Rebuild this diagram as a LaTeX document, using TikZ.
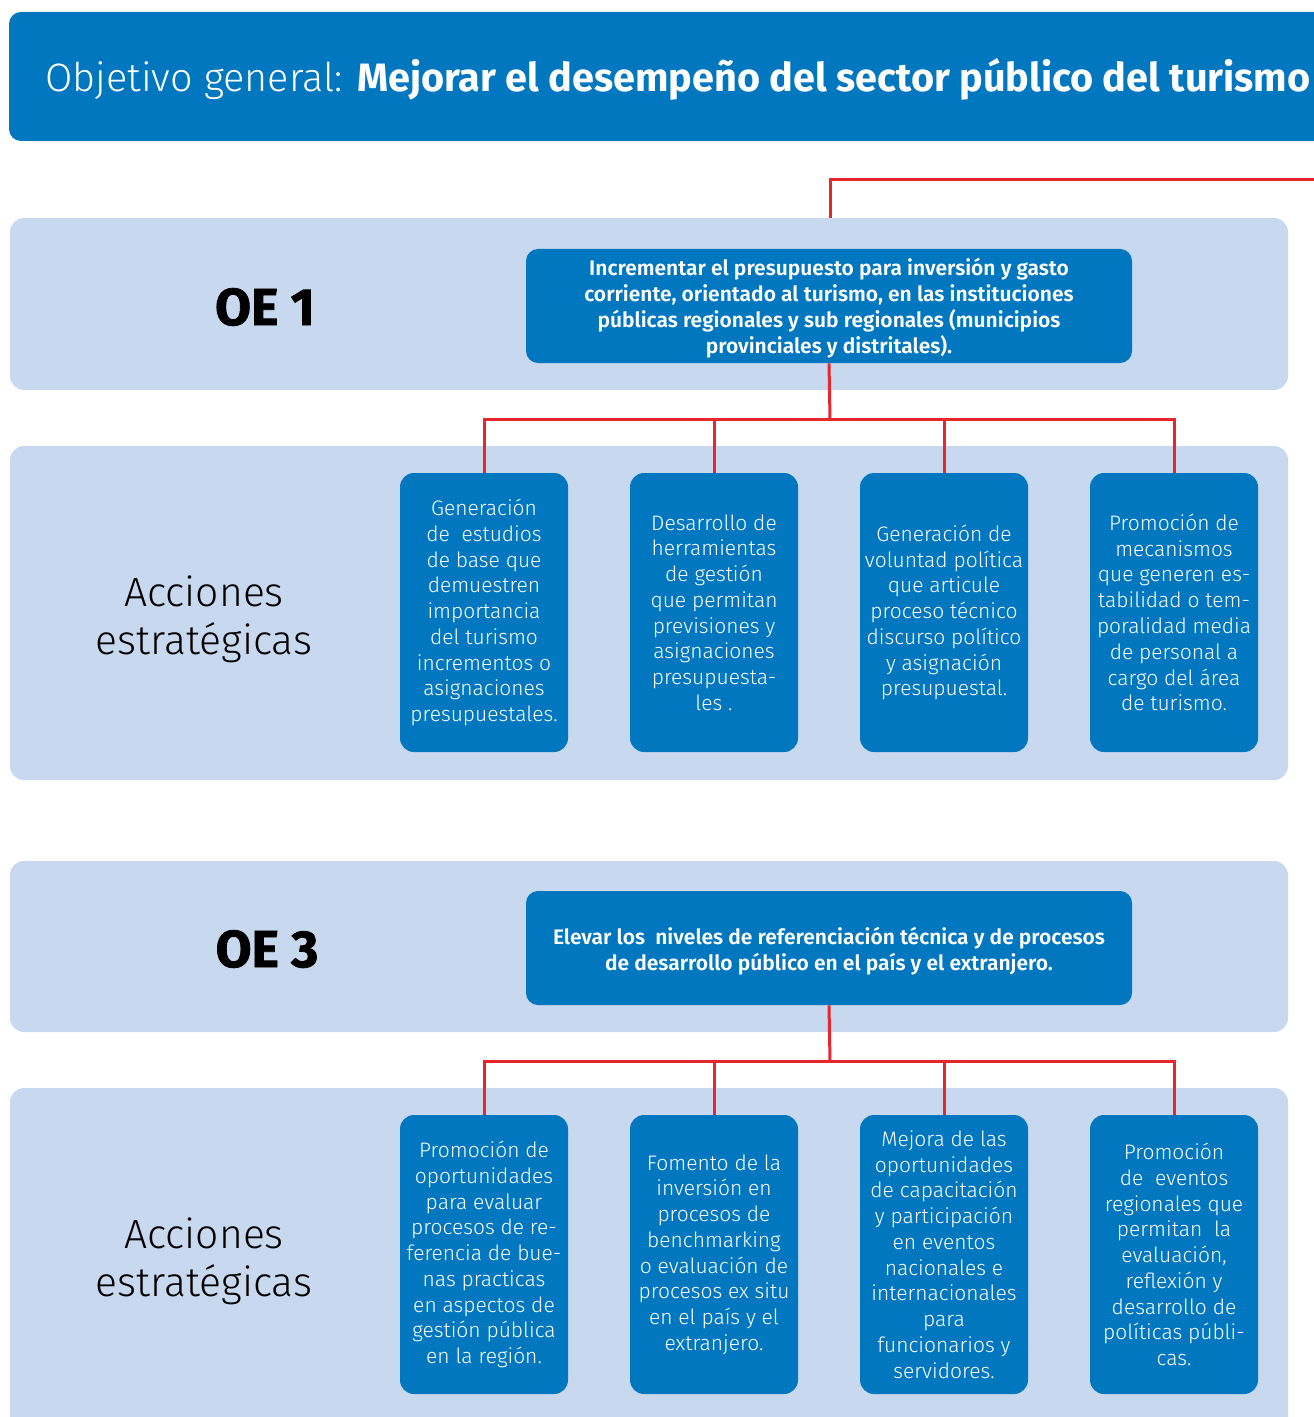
\documentclass[tikz,border=0pt]{standalone}
\usepackage{fontspec}
\setmainfont{Fira Sans}
\newfontfamily\lightf{Fira Sans Light}
\newfontfamily\semif{Fira Sans SemiBold}
\newfontfamily\heavyf[FakeBold=1.5]{Fira Sans Bold}
\definecolor{bannerblue}{HTML}{0077BF}
\definecolor{bandblue}{HTML}{C8D8EE}
\definecolor{linered}{HTML}{E8262E}
\tikzset{
  band/.style={fill=bandblue, rounded corners=7pt},
  oebox/.style={fill=bannerblue, rounded corners=6pt,
    minimum width=303pt, minimum height=57pt, inner sep=0pt},
  oetext/.style={font=\semif\fontsize{10.5}{13}\selectfont, text=white, align=center, inner sep=0pt},
  actbox/.style={fill=bannerblue, rounded corners=7pt, text=white, align=center,
    minimum width=84pt, minimum height=139.5pt, inner sep=0pt,
    font=\lightf\fontsize{10.5}{12.88}\selectfont},
  oelabel/.style={font=\heavyf\fontsize{26}{30}\selectfont, text=black},
  acclabel/.style={font=\lightf\fontsize{20.4}{24}\selectfont, text=black, align=center},
  redline/.style={draw=linered, line width=1.5pt},
}
\begin{document}
\begin{tikzpicture}[x=0.5pt,y=-0.5pt]
\useasboundingbox (0,0) rectangle (1313,1417);
% banner
\fill[bannerblue, rounded corners=6pt] (9,12) rectangle (1340,141);
\node[anchor=base west, text=white, inner sep=0pt, font=\fontsize{19.8}{22}\selectfont] (title) at (45,92)
  {{\lightf Objetivo general:} \bfseries Mejorar el desempeño del sector público del turismo};
% bands
\fill[band] (10,218) rectangle (1288,390);
\fill[band] (10,446) rectangle (1288,780);
\fill[band] (10,861) rectangle (1288,1032);
\fill[band] (10,1088) rectangle (1288,1440);
% labels
\node[oelabel] (l1) at (265,307) {OE 1};
\node[acclabel] (l2) at (204,619) {Acciones\\estratégicas};
\node[oelabel] (l3) at (267,949) {OE 3};
\node[acclabel] (l4) at (204,1261) {Acciones\\estratégicas};
% OE boxes
\node[oebox] (oe1) at (829,306) {};
\node[oetext] (oe1t) at (829,308.5) {Incrementar el presupuesto para inversión y gasto\\corriente, orientado al turismo, en las instituciones\\públicas regionales y sub regionales (municipios\\provinciales y distritales).};
\node[oebox] (oe3) at (829,948) {};
\node[oetext] (oe3t) at (829,951) {Elevar los\ \ niveles de referenciación técnica y de procesos\\de desarrollo público en el país y el extranjero.};
% action boxes OE1
\node[actbox] (a1) at (484,612.5) {Generación\\de\ \ estudios\\de base que\\demuestren\\importancia\\del turismo\\incrementos o\\asignaciones\\presupuestales.};
\node[actbox] (a2) at (714,612.5) {Desarrollo de\\herramientas\\de gestión\\que permitan\\previsiones y\\asignaciones\\presupuesta-\\les .};
\node[actbox] (a3) at (944,612.5) {Generación de\\voluntad política\\que articule\\proceso técnico\\discurso político\\y asignación\\presupuestal.};
\node[actbox] (a4) at (1174,612.5) {Promoción de\\mecanismos\\que generen es-\\tabilidad o tem-\\poralidad media\\de personal a\\cargo del área\\de turismo.};
% action boxes OE3
\node[actbox] (b1) at (484,1254.5) {Promoción de\\oportunidades\\para evaluar\\procesos de re-\\ferencia de bue-\\nas practicas\\en aspectos de\\gestión pública\\en la región.};
\node[actbox] (b2) at (714,1254.5) {Fomento de la\\inversión en\\procesos de\\benchmarking\\o evaluación de\\procesos ex situ\\en el país y el\\extranjero.};
\node[actbox] (b3) at (944,1254.5) {Mejora de las\\oportunidades\\de capacitación\\y participación\\en eventos\\nacionales e\\internacionales\\para\\funcionarios y\\servidores.};
\node[actbox] (b4) at (1174,1254.5) {Promoción\\de\ \ eventos\\regionales que\\permitan\ \ la\\evaluación,\\reflexión y\\desarrollo de\\políticas públi-\\cas.};
% connectors
\coordinate (t0) at (830,218);
\coordinate (t1) at (1330,180);
\draw[redline] (t0) |- (t1);
\coordinate (j1) at (830,419);
\draw[redline] (oe1.south) -- (j1);
\draw[redline] (j1) -| (a1.north);
\draw[redline] (j1) -| (a2.north);
\draw[redline] (j1) -| (a3.north);
\draw[redline] (j1) -| (a4.north);
\coordinate (j3) at (830,1061);
\draw[redline] (oe3.south) -- (j3);
\draw[redline] (j3) -| (b1.north);
\draw[redline] (j3) -| (b2.north);
\draw[redline] (j3) -| (b3.north);
\draw[redline] (j3) -| (b4.north);
\end{tikzpicture}
\end{document}
